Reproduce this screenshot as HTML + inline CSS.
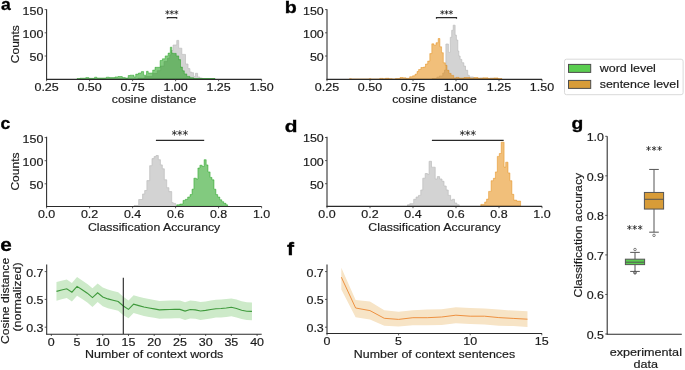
<!DOCTYPE html>
<html><head><meta charset="utf-8"><style>
html,body{margin:0;padding:0;background:#fff;width:685px;height:370px;overflow:hidden}
svg{display:block;will-change:transform}
text{font-family:"Liberation Sans",sans-serif}
</style></head><body>
<svg width="685" height="370" viewBox="0 0 685 370">
<rect width="685" height="370" fill="#fff"/>
<text x="0" y="0" font-size="17.0" font-weight="bold" fill="#000" stroke="#000" stroke-width="0.3" transform="translate(0.890 10.034) scale(1.0355 0.9768)">a</text>
<text x="0" y="0" font-size="17.0" font-weight="bold" fill="#000" stroke="#000" stroke-width="0.3" transform="translate(284.704 13.038) scale(1.1555 0.9524)">b</text>
<text x="0" y="0" font-size="17.0" font-weight="bold" fill="#000" stroke="#000" stroke-width="0.3" transform="translate(0.413 129.428) scale(1.0366 1.0090)">c</text>
<text x="0" y="0" font-size="17.0" font-weight="bold" fill="#000" stroke="#000" stroke-width="0.3" transform="translate(284.646 132.335) scale(1.2255 0.9684)">d</text>
<text x="0" y="0" font-size="17.0" font-weight="bold" fill="#000" stroke="#000" stroke-width="0.3" transform="translate(0.293 251.214) scale(1.2179 1.0949)">e</text>
<text x="0" y="0" font-size="17.0" font-weight="bold" fill="#000" stroke="#000" stroke-width="0.3" transform="translate(286.942 254.500) scale(1.2394 1.0548)">f</text>
<text x="0" y="0" font-size="17.0" font-weight="bold" fill="#000" stroke="#000" stroke-width="0.3" transform="translate(571.409 128.700) scale(1.1344 0.9713)">g</text>
<path d="M138.00,79.20 L138.00,78.30 L144.80,78.30 L144.80,76.40 L152.70,76.40 L152.70,73.50 L157.30,73.50 L157.30,70.70 L160.70,70.70 L160.70,66.10 L164.10,66.10 L164.10,61.60 L167.50,61.60 L167.50,58.20 L169.80,58.20 L169.80,54.80 L171.50,54.80 L171.50,50.50 L173.10,50.50 L173.10,45.00 L176.80,45.00 L176.80,40.40 L178.70,40.40 L178.70,48.20 L181.80,48.20 L181.80,54.40 L185.50,54.40 L185.50,64.00 L188.00,64.00 L188.00,68.60 L189.90,68.60 L189.90,72.10 L191.70,72.10 L191.70,72.70 L193.60,72.70 L193.60,76.40 L195.50,76.40 L195.50,73.30 L197.60,73.30 L197.60,77.00 L199.80,77.00 L199.80,78.00 L202.30,78.00 L202.30,78.70 L215.00,78.70 L215.00,79.20 Z" fill="#d3d3d3" fill-opacity="1.0" stroke="#bdbdbd" stroke-width="0.7" stroke-linejoin="miter"/>
<path d="M77.00,79.20 L77.00,78.60 L80.00,78.60 L80.00,78.20 L85.80,78.20 L85.80,77.60 L88.80,77.60 L88.80,78.30 L94.60,78.30 L94.60,77.20 L96.80,77.20 L96.80,78.00 L106.30,78.00 L106.30,77.20 L109.20,77.20 L109.20,77.60 L115.00,77.60 L115.00,76.90 L118.00,76.90 L118.00,76.50 L122.30,76.50 L122.30,77.60 L125.30,77.60 L125.30,78.00 L128.20,78.00 L128.20,75.50 L130.00,75.50 L130.00,75.20 L134.00,75.20 L134.00,76.90 L135.70,76.90 L135.70,74.10 L138.50,74.10 L138.50,73.00 L141.40,73.00 L141.40,71.60 L143.60,71.60 L143.60,75.20 L146.50,75.20 L146.50,71.30 L148.20,71.30 L148.20,73.00 L152.70,73.00 L152.70,70.10 L155.00,70.10 L155.00,67.30 L160.10,67.30 L160.10,60.50 L162.40,60.50 L162.40,58.80 L165.20,58.80 L165.20,55.90 L168.10,55.90 L168.10,53.10 L170.30,53.10 L170.30,47.20 L171.80,47.20 L171.80,53.20 L173.10,53.20 L173.10,53.40 L176.20,53.40 L176.20,55.90 L178.70,55.90 L178.70,59.60 L180.50,59.60 L180.50,67.10 L182.40,67.10 L182.40,70.80 L184.30,70.80 L184.30,73.90 L186.80,73.90 L186.80,76.40 L189.90,76.40 L189.90,77.70 L193.60,77.70 L193.60,78.50 L215.00,78.50 L215.00,79.20 Z" fill="rgb(5,150,0)" fill-opacity="0.5" stroke="rgba(5,150,0,0.58)" stroke-width="0.7" stroke-linejoin="miter"/>
<path d="M432.00,79.20 L432.00,78.60 L436.90,78.60 L436.90,77.20 L439.40,77.20 L439.40,76.00 L442.80,76.00 L442.80,73.00 L444.50,73.00 L444.50,70.00 L445.90,70.00 L445.90,44.00 L448.40,44.00 L448.40,52.40 L450.30,52.40 L450.30,37.30 L451.70,37.30 L451.70,30.30 L453.20,30.30 L453.20,25.20 L455.10,25.20 L455.10,35.10 L456.40,35.10 L456.40,40.00 L457.80,40.00 L457.80,51.00 L458.80,51.00 L458.80,56.00 L460.10,56.00 L460.10,59.40 L461.80,59.40 L461.80,62.70 L463.80,62.70 L463.80,66.10 L465.50,66.10 L465.50,70.30 L467.70,70.30 L467.70,75.30 L469.30,75.30 L469.30,77.00 L473.50,77.00 L473.50,78.30 L480.00,78.30 L480.00,78.00 L483.00,78.00 L483.00,78.60 L490.00,78.60 L490.00,78.20 L494.00,78.20 L494.00,78.60 L498.00,78.60 L498.00,79.20 Z" fill="#d3d3d3" fill-opacity="1.0" stroke="#bdbdbd" stroke-width="0.7" stroke-linejoin="miter"/>
<path d="M349.50,79.20 L349.50,78.70 L351.30,78.70 L351.30,79.20 L369.20,79.20 L369.20,78.70 L371.00,78.70 L371.00,79.20 L379.70,79.20 L379.70,78.40 L383.00,78.40 L383.00,78.80 L385.50,78.80 L385.50,78.30 L389.00,78.30 L389.00,78.70 L392.20,78.70 L392.20,79.10 L395.50,79.10 L395.50,78.60 L400.00,78.60 L400.00,77.50 L403.00,77.50 L403.00,77.80 L406.00,77.80 L406.00,78.30 L409.70,78.30 L409.70,76.70 L412.60,76.70 L412.60,75.80 L415.00,75.80 L415.00,74.20 L417.00,74.20 L417.00,71.50 L418.60,71.50 L418.60,69.50 L420.90,69.50 L420.90,67.50 L423.50,67.50 L423.50,67.00 L425.50,67.00 L425.50,64.00 L427.70,64.00 L427.70,61.10 L429.80,61.10 L429.80,53.60 L431.80,53.60 L431.80,43.80 L433.90,43.80 L433.90,45.20 L436.00,45.20 L436.00,42.70 L438.20,42.70 L438.20,38.50 L439.90,38.50 L439.90,46.80 L441.60,46.80 L441.60,52.70 L443.30,52.70 L443.30,62.80 L445.30,62.80 L445.30,65.30 L447.00,65.30 L447.00,70.30 L449.00,70.30 L449.00,73.40 L451.10,73.40 L451.10,75.40 L453.70,75.40 L453.70,77.90 L456.00,77.90 L456.00,77.40 L459.00,77.40 L459.00,78.10 L464.00,78.10 L464.00,77.60 L470.00,77.60 L470.00,78.20 L474.00,78.20 L474.00,77.60 L478.00,77.60 L478.00,78.30 L483.00,78.30 L483.00,77.80 L488.00,77.80 L488.00,78.40 L494.00,78.40 L494.00,77.90 L498.00,77.90 L498.00,78.60 L502.00,78.60 L502.00,79.20 Z" fill="rgb(228,133,0)" fill-opacity="0.52" stroke="rgba(228,133,0,0.62)" stroke-width="0.7" stroke-linejoin="miter"/>
<line x1="46.60" y1="9.20" x2="46.60" y2="79.70" stroke="#2a2a2a" stroke-width="1.05" />
<line x1="46.10" y1="79.35" x2="261.60" y2="79.35" stroke="#2a2a2a" stroke-width="1.05" />
<line x1="46.60" y1="79.20" x2="46.60" y2="81.20" stroke="#333333" stroke-width="0.8" />
<text x="46.60" y="91.10" font-size="11.4" text-anchor="middle" fill="#1a1a1a" stroke="#1a1a1a" stroke-width="0.18" textLength="24.27" lengthAdjust="spacingAndGlyphs">0.25</text>
<line x1="89.60" y1="79.20" x2="89.60" y2="81.20" stroke="#333333" stroke-width="0.8" />
<text x="89.60" y="91.10" font-size="11.4" text-anchor="middle" fill="#1a1a1a" stroke="#1a1a1a" stroke-width="0.18" textLength="24.27" lengthAdjust="spacingAndGlyphs">0.50</text>
<line x1="132.60" y1="79.20" x2="132.60" y2="81.20" stroke="#333333" stroke-width="0.8" />
<text x="132.60" y="91.10" font-size="11.4" text-anchor="middle" fill="#1a1a1a" stroke="#1a1a1a" stroke-width="0.18" textLength="24.27" lengthAdjust="spacingAndGlyphs">0.75</text>
<line x1="175.60" y1="79.20" x2="175.60" y2="81.20" stroke="#333333" stroke-width="0.8" />
<text x="175.60" y="91.10" font-size="11.4" text-anchor="middle" fill="#1a1a1a" stroke="#1a1a1a" stroke-width="0.18" textLength="24.27" lengthAdjust="spacingAndGlyphs">1.00</text>
<line x1="218.60" y1="79.20" x2="218.60" y2="81.20" stroke="#333333" stroke-width="0.8" />
<text x="218.60" y="91.10" font-size="11.4" text-anchor="middle" fill="#1a1a1a" stroke="#1a1a1a" stroke-width="0.18" textLength="24.27" lengthAdjust="spacingAndGlyphs">1.25</text>
<line x1="261.60" y1="79.20" x2="261.60" y2="81.20" stroke="#333333" stroke-width="0.8" />
<text x="261.60" y="91.10" font-size="11.4" text-anchor="middle" fill="#1a1a1a" stroke="#1a1a1a" stroke-width="0.18" textLength="24.27" lengthAdjust="spacingAndGlyphs">1.50</text>
<line x1="44.60" y1="56.00" x2="46.60" y2="56.00" stroke="#333333" stroke-width="0.8" />
<text x="43.40" y="60.90" font-size="11.4" text-anchor="end" fill="#1a1a1a" stroke="#1a1a1a" stroke-width="0.18" textLength="13.87" lengthAdjust="spacingAndGlyphs">50</text>
<line x1="44.60" y1="32.80" x2="46.60" y2="32.80" stroke="#333333" stroke-width="0.8" />
<text x="43.40" y="37.70" font-size="11.4" text-anchor="end" fill="#1a1a1a" stroke="#1a1a1a" stroke-width="0.18" textLength="20.80" lengthAdjust="spacingAndGlyphs">100</text>
<line x1="44.60" y1="9.60" x2="46.60" y2="9.60" stroke="#333333" stroke-width="0.8" />
<text x="43.40" y="14.50" font-size="11.4" text-anchor="end" fill="#1a1a1a" stroke="#1a1a1a" stroke-width="0.18" textLength="20.80" lengthAdjust="spacingAndGlyphs">150</text>
<text x="154.10" y="103.00" font-size="11.4" text-anchor="middle" fill="#1a1a1a" stroke="#1a1a1a" stroke-width="0.18" textLength="84.64" lengthAdjust="spacingAndGlyphs">cosine distance</text>
<text x="19.00" y="44.20" font-size="11.4" text-anchor="middle" fill="#1a1a1a" stroke="#1a1a1a" stroke-width="0.18" textLength="38.05" lengthAdjust="spacingAndGlyphs" transform="rotate(-90 19.00 44.20)">Counts</text>
<line x1="327.00" y1="9.20" x2="327.00" y2="79.70" stroke="#2a2a2a" stroke-width="1.05" />
<line x1="326.50" y1="79.35" x2="542.00" y2="79.35" stroke="#2a2a2a" stroke-width="1.05" />
<line x1="327.00" y1="79.20" x2="327.00" y2="81.20" stroke="#333333" stroke-width="0.8" />
<text x="327.00" y="91.10" font-size="11.4" text-anchor="middle" fill="#1a1a1a" stroke="#1a1a1a" stroke-width="0.18" textLength="24.27" lengthAdjust="spacingAndGlyphs">0.25</text>
<line x1="370.00" y1="79.20" x2="370.00" y2="81.20" stroke="#333333" stroke-width="0.8" />
<text x="370.00" y="91.10" font-size="11.4" text-anchor="middle" fill="#1a1a1a" stroke="#1a1a1a" stroke-width="0.18" textLength="24.27" lengthAdjust="spacingAndGlyphs">0.50</text>
<line x1="413.00" y1="79.20" x2="413.00" y2="81.20" stroke="#333333" stroke-width="0.8" />
<text x="413.00" y="91.10" font-size="11.4" text-anchor="middle" fill="#1a1a1a" stroke="#1a1a1a" stroke-width="0.18" textLength="24.27" lengthAdjust="spacingAndGlyphs">0.75</text>
<line x1="456.00" y1="79.20" x2="456.00" y2="81.20" stroke="#333333" stroke-width="0.8" />
<text x="456.00" y="91.10" font-size="11.4" text-anchor="middle" fill="#1a1a1a" stroke="#1a1a1a" stroke-width="0.18" textLength="24.27" lengthAdjust="spacingAndGlyphs">1.00</text>
<line x1="499.00" y1="79.20" x2="499.00" y2="81.20" stroke="#333333" stroke-width="0.8" />
<text x="499.00" y="91.10" font-size="11.4" text-anchor="middle" fill="#1a1a1a" stroke="#1a1a1a" stroke-width="0.18" textLength="24.27" lengthAdjust="spacingAndGlyphs">1.25</text>
<line x1="542.00" y1="79.20" x2="542.00" y2="81.20" stroke="#333333" stroke-width="0.8" />
<text x="542.00" y="91.10" font-size="11.4" text-anchor="middle" fill="#1a1a1a" stroke="#1a1a1a" stroke-width="0.18" textLength="24.27" lengthAdjust="spacingAndGlyphs">1.50</text>
<line x1="325.00" y1="56.00" x2="327.00" y2="56.00" stroke="#333333" stroke-width="0.8" />
<text x="323.80" y="60.90" font-size="11.4" text-anchor="end" fill="#1a1a1a" stroke="#1a1a1a" stroke-width="0.18" textLength="13.87" lengthAdjust="spacingAndGlyphs">50</text>
<line x1="325.00" y1="32.80" x2="327.00" y2="32.80" stroke="#333333" stroke-width="0.8" />
<text x="323.80" y="37.70" font-size="11.4" text-anchor="end" fill="#1a1a1a" stroke="#1a1a1a" stroke-width="0.18" textLength="20.80" lengthAdjust="spacingAndGlyphs">100</text>
<line x1="325.00" y1="9.60" x2="327.00" y2="9.60" stroke="#333333" stroke-width="0.8" />
<text x="323.80" y="14.50" font-size="11.4" text-anchor="end" fill="#1a1a1a" stroke="#1a1a1a" stroke-width="0.18" textLength="20.80" lengthAdjust="spacingAndGlyphs">150</text>
<text x="434.50" y="103.00" font-size="11.4" text-anchor="middle" fill="#1a1a1a" stroke="#1a1a1a" stroke-width="0.18" textLength="84.64" lengthAdjust="spacingAndGlyphs">cosine distance</text>
<path d="M167.30,18.80 L167.30,17.60 L176.70,17.60 L176.70,18.80" fill="none" stroke="#2a2a2a" stroke-width="1.2"/>
<path d="M167.40,10.15 L167.40,14.65 M165.45,11.28 L169.35,13.53 M165.45,13.53 L169.35,11.28 M171.80,10.15 L171.80,14.65 M169.85,11.28 L173.75,13.53 M169.85,13.53 L173.75,11.28 M176.30,10.15 L176.30,14.65 M174.35,11.28 L178.25,13.53 M174.35,13.53 L178.25,11.28 " stroke="#1e1e1e" stroke-width="0.75" fill="none" stroke-linecap="butt"/>
<path d="M436.50,18.80 L436.50,17.60 L456.50,17.60 L456.50,18.80" fill="none" stroke="#2a2a2a" stroke-width="1.2"/>
<path d="M442.30,10.20 L442.30,14.60 M440.39,11.30 L444.21,13.50 M440.39,13.50 L444.21,11.30 M446.50,10.20 L446.50,14.60 M444.59,11.30 L448.41,13.50 M444.59,13.50 L448.41,11.30 M450.90,10.20 L450.90,14.60 M448.99,11.30 L452.81,13.50 M448.99,13.50 L452.81,11.30 " stroke="#1e1e1e" stroke-width="0.75" fill="none" stroke-linecap="butt"/>
<path d="M134.00,206.30 L134.00,205.50 L138.70,205.50 L138.70,199.50 L142.60,199.50 L142.60,194.00 L144.70,194.00 L144.70,190.50 L146.90,190.50 L146.90,180.60 L149.70,180.60 L149.70,165.70 L152.00,165.70 L152.00,158.60 L154.10,158.60 L154.10,156.60 L156.00,156.60 L156.00,155.50 L158.30,155.50 L158.30,159.70 L160.40,159.70 L160.40,164.90 L162.30,164.90 L162.30,168.80 L164.30,168.80 L164.30,179.80 L166.70,179.80 L166.70,187.70 L168.90,187.70 L168.90,191.60 L171.70,191.60 L171.70,202.60 L173.20,202.60 L173.20,203.40 L175.60,203.40 L175.60,206.30 Z" fill="#d3d3d3" fill-opacity="1.0" stroke="#bdbdbd" stroke-width="0.7" stroke-linejoin="miter"/>
<path d="M176.70,206.30 L176.70,204.80 L179.80,204.80 L179.80,204.00 L183.00,204.00 L183.00,200.40 L185.30,200.40 L185.30,199.30 L187.70,199.30 L187.70,197.00 L190.00,197.00 L190.00,194.60 L192.00,194.60 L192.00,189.20 L193.90,189.20 L193.90,178.20 L196.30,178.20 L196.30,179.00 L197.90,179.00 L197.90,168.00 L199.90,168.00 L199.90,165.20 L202.20,165.20 L202.20,166.50 L204.10,166.50 L204.10,159.70 L206.20,159.70 L206.20,164.90 L208.00,164.90 L208.00,171.90 L210.10,171.90 L210.10,177.40 L212.00,177.40 L212.00,179.80 L214.00,179.80 L214.00,189.20 L215.90,189.20 L215.90,194.60 L217.70,194.60 L217.70,197.00 L219.80,197.00 L219.80,199.80 L221.80,199.80 L221.80,201.70 L223.70,201.70 L223.70,203.30 L226.00,203.30 L226.00,204.80 L227.60,204.80 L227.60,206.30 Z" fill="rgb(5,150,0)" fill-opacity="0.5" stroke="rgba(5,150,0,0.58)" stroke-width="0.7" stroke-linejoin="miter"/>
<path d="M407.50,206.20 L407.50,204.80 L409.80,204.80 L409.80,203.70 L413.70,203.70 L413.70,199.30 L416.10,199.30 L416.10,197.00 L418.50,197.00 L418.50,195.40 L420.80,195.40 L420.80,190.00 L422.80,190.00 L422.80,178.20 L425.20,178.20 L425.20,173.50 L427.40,173.50 L427.40,174.30 L429.10,174.30 L429.10,161.30 L431.50,161.30 L431.50,167.20 L433.00,167.20 L433.00,167.20 L435.20,167.20 L435.20,179.00 L437.30,179.00 L437.30,176.60 L439.60,176.60 L439.60,179.00 L442.00,179.00 L442.00,181.30 L444.00,181.30 L444.00,186.00 L446.20,186.00 L446.20,190.00 L448.20,190.00 L448.20,195.40 L450.60,195.40 L450.60,200.10 L452.40,200.10 L452.40,199.30 L454.50,199.30 L454.50,203.00 L456.80,203.00 L456.80,204.80 L459.20,204.80 L459.20,206.20 Z" fill="#d3d3d3" fill-opacity="1.0" stroke="#bdbdbd" stroke-width="0.7" stroke-linejoin="miter"/>
<path d="M480.80,206.20 L480.80,204.40 L484.70,204.40 L484.70,202.00 L486.60,202.00 L486.60,199.10 L488.60,199.10 L488.60,191.40 L491.10,191.40 L491.10,180.70 L493.40,180.70 L493.40,178.30 L495.40,178.30 L495.40,171.90 L497.30,171.90 L497.30,156.40 L499.30,156.40 L499.30,153.50 L501.20,153.50 L501.20,142.20 L504.10,142.20 L504.10,167.10 L505.70,167.10 L505.70,162.20 L508.00,162.20 L508.00,172.90 L509.90,172.90 L509.90,180.70 L511.90,180.70 L511.90,194.30 L513.80,194.30 L513.80,200.10 L516.70,200.10 L516.70,201.10 L520.60,201.10 L520.60,206.20 Z" fill="rgb(228,133,0)" fill-opacity="0.52" stroke="rgba(228,133,0,0.62)" stroke-width="0.7" stroke-linejoin="miter"/>
<line x1="46.60" y1="136.80" x2="46.60" y2="206.80" stroke="#2a2a2a" stroke-width="1.05" />
<line x1="46.10" y1="206.45" x2="261.60" y2="206.45" stroke="#2a2a2a" stroke-width="1.05" />
<line x1="46.60" y1="206.30" x2="46.60" y2="208.30" stroke="#333333" stroke-width="0.8" />
<text x="46.60" y="218.20" font-size="11.4" text-anchor="middle" fill="#1a1a1a" stroke="#1a1a1a" stroke-width="0.18" textLength="17.33" lengthAdjust="spacingAndGlyphs">0.0</text>
<line x1="89.60" y1="206.30" x2="89.60" y2="208.30" stroke="#333333" stroke-width="0.8" />
<text x="89.60" y="218.20" font-size="11.4" text-anchor="middle" fill="#1a1a1a" stroke="#1a1a1a" stroke-width="0.18" textLength="17.33" lengthAdjust="spacingAndGlyphs">0.2</text>
<line x1="132.60" y1="206.30" x2="132.60" y2="208.30" stroke="#333333" stroke-width="0.8" />
<text x="132.60" y="218.20" font-size="11.4" text-anchor="middle" fill="#1a1a1a" stroke="#1a1a1a" stroke-width="0.18" textLength="17.33" lengthAdjust="spacingAndGlyphs">0.4</text>
<line x1="175.60" y1="206.30" x2="175.60" y2="208.30" stroke="#333333" stroke-width="0.8" />
<text x="175.60" y="218.20" font-size="11.4" text-anchor="middle" fill="#1a1a1a" stroke="#1a1a1a" stroke-width="0.18" textLength="17.33" lengthAdjust="spacingAndGlyphs">0.6</text>
<line x1="218.60" y1="206.30" x2="218.60" y2="208.30" stroke="#333333" stroke-width="0.8" />
<text x="218.60" y="218.20" font-size="11.4" text-anchor="middle" fill="#1a1a1a" stroke="#1a1a1a" stroke-width="0.18" textLength="17.33" lengthAdjust="spacingAndGlyphs">0.8</text>
<line x1="261.60" y1="206.30" x2="261.60" y2="208.30" stroke="#333333" stroke-width="0.8" />
<text x="261.60" y="218.20" font-size="11.4" text-anchor="middle" fill="#1a1a1a" stroke="#1a1a1a" stroke-width="0.18" textLength="17.33" lengthAdjust="spacingAndGlyphs">1.0</text>
<line x1="44.60" y1="183.80" x2="46.60" y2="183.80" stroke="#333333" stroke-width="0.8" />
<text x="43.40" y="188.70" font-size="11.4" text-anchor="end" fill="#1a1a1a" stroke="#1a1a1a" stroke-width="0.18" textLength="13.87" lengthAdjust="spacingAndGlyphs">50</text>
<line x1="44.60" y1="160.70" x2="46.60" y2="160.70" stroke="#333333" stroke-width="0.8" />
<text x="43.40" y="165.60" font-size="11.4" text-anchor="end" fill="#1a1a1a" stroke="#1a1a1a" stroke-width="0.18" textLength="20.80" lengthAdjust="spacingAndGlyphs">100</text>
<line x1="44.60" y1="137.60" x2="46.60" y2="137.60" stroke="#333333" stroke-width="0.8" />
<text x="43.40" y="142.50" font-size="11.4" text-anchor="end" fill="#1a1a1a" stroke="#1a1a1a" stroke-width="0.18" textLength="20.80" lengthAdjust="spacingAndGlyphs">150</text>
<text x="154.10" y="230.60" font-size="11.4" text-anchor="middle" fill="#1a1a1a" stroke="#1a1a1a" stroke-width="0.18" textLength="132.26" lengthAdjust="spacingAndGlyphs">Classification Accurancy</text>
<text x="19.00" y="171.55" font-size="11.4" text-anchor="middle" fill="#1a1a1a" stroke="#1a1a1a" stroke-width="0.18" textLength="38.05" lengthAdjust="spacingAndGlyphs" transform="rotate(-90 19.00 171.55)">Counts</text>
<line x1="327.00" y1="136.70" x2="327.00" y2="206.70" stroke="#2a2a2a" stroke-width="1.05" />
<line x1="326.50" y1="206.35" x2="542.00" y2="206.35" stroke="#2a2a2a" stroke-width="1.05" />
<line x1="327.00" y1="206.20" x2="327.00" y2="208.20" stroke="#333333" stroke-width="0.8" />
<text x="327.00" y="218.10" font-size="11.4" text-anchor="middle" fill="#1a1a1a" stroke="#1a1a1a" stroke-width="0.18" textLength="17.33" lengthAdjust="spacingAndGlyphs">0.0</text>
<line x1="370.00" y1="206.20" x2="370.00" y2="208.20" stroke="#333333" stroke-width="0.8" />
<text x="370.00" y="218.10" font-size="11.4" text-anchor="middle" fill="#1a1a1a" stroke="#1a1a1a" stroke-width="0.18" textLength="17.33" lengthAdjust="spacingAndGlyphs">0.2</text>
<line x1="413.00" y1="206.20" x2="413.00" y2="208.20" stroke="#333333" stroke-width="0.8" />
<text x="413.00" y="218.10" font-size="11.4" text-anchor="middle" fill="#1a1a1a" stroke="#1a1a1a" stroke-width="0.18" textLength="17.33" lengthAdjust="spacingAndGlyphs">0.4</text>
<line x1="456.00" y1="206.20" x2="456.00" y2="208.20" stroke="#333333" stroke-width="0.8" />
<text x="456.00" y="218.10" font-size="11.4" text-anchor="middle" fill="#1a1a1a" stroke="#1a1a1a" stroke-width="0.18" textLength="17.33" lengthAdjust="spacingAndGlyphs">0.6</text>
<line x1="499.00" y1="206.20" x2="499.00" y2="208.20" stroke="#333333" stroke-width="0.8" />
<text x="499.00" y="218.10" font-size="11.4" text-anchor="middle" fill="#1a1a1a" stroke="#1a1a1a" stroke-width="0.18" textLength="17.33" lengthAdjust="spacingAndGlyphs">0.8</text>
<line x1="542.00" y1="206.20" x2="542.00" y2="208.20" stroke="#333333" stroke-width="0.8" />
<text x="542.00" y="218.10" font-size="11.4" text-anchor="middle" fill="#1a1a1a" stroke="#1a1a1a" stroke-width="0.18" textLength="17.33" lengthAdjust="spacingAndGlyphs">1.0</text>
<line x1="325.00" y1="183.70" x2="327.00" y2="183.70" stroke="#333333" stroke-width="0.8" />
<text x="323.80" y="188.60" font-size="11.4" text-anchor="end" fill="#1a1a1a" stroke="#1a1a1a" stroke-width="0.18" textLength="13.87" lengthAdjust="spacingAndGlyphs">50</text>
<line x1="325.00" y1="160.60" x2="327.00" y2="160.60" stroke="#333333" stroke-width="0.8" />
<text x="323.80" y="165.50" font-size="11.4" text-anchor="end" fill="#1a1a1a" stroke="#1a1a1a" stroke-width="0.18" textLength="20.80" lengthAdjust="spacingAndGlyphs">100</text>
<line x1="325.00" y1="137.50" x2="327.00" y2="137.50" stroke="#333333" stroke-width="0.8" />
<text x="323.80" y="142.40" font-size="11.4" text-anchor="end" fill="#1a1a1a" stroke="#1a1a1a" stroke-width="0.18" textLength="20.80" lengthAdjust="spacingAndGlyphs">150</text>
<text x="434.50" y="230.60" font-size="11.4" text-anchor="middle" fill="#1a1a1a" stroke="#1a1a1a" stroke-width="0.18" textLength="132.26" lengthAdjust="spacingAndGlyphs">Classification Accurancy</text>
<path d="M156.50,140.90 L156.50,140.30 L203.60,140.30 L203.60,140.90" fill="none" stroke="#2a2a2a" stroke-width="1.2"/>
<path d="M174.40,130.10 L174.40,135.70 M171.98,131.50 L176.82,134.30 M171.98,134.30 L176.82,131.50 M179.80,130.10 L179.80,135.70 M177.38,131.50 L182.22,134.30 M177.38,134.30 L182.22,131.50 M185.40,130.10 L185.40,135.70 M182.98,131.50 L187.82,134.30 M182.98,134.30 L187.82,131.50 " stroke="#1e1e1e" stroke-width="0.75" fill="none" stroke-linecap="butt"/>
<path d="M432.50,141.00 L432.50,140.40 L503.10,140.40 L503.10,141.00" fill="none" stroke="#2a2a2a" stroke-width="1.2"/>
<path d="M462.40,130.20 L462.40,135.80 M459.98,131.60 L464.82,134.40 M459.98,134.40 L464.82,131.60 M467.70,130.20 L467.70,135.80 M465.28,131.60 L470.12,134.40 M465.28,134.40 L470.12,131.60 M473.30,130.20 L473.30,135.80 M470.88,131.60 L475.72,134.40 M470.88,134.40 L475.72,131.60 " stroke="#1e1e1e" stroke-width="0.75" fill="none" stroke-linecap="butt"/>
<rect x="564.5" y="59.2" width="118.6" height="35.5" rx="2" ry="2" fill="#fff" stroke="#d9d9d9" stroke-width="1"/>
<rect x="568.5" y="64.4" width="22.2" height="8.0" fill="#5acd50" stroke="#4d4d4d" stroke-width="1"/>
<rect x="568.5" y="80.4" width="22.2" height="8.0" fill="#d89c38" stroke="#4d4d4d" stroke-width="1"/>
<text x="599.70" y="72.00" font-size="11.4" text-anchor="start" fill="#1a1a1a" stroke="#1a1a1a" stroke-width="0.18" textLength="56.18" lengthAdjust="spacingAndGlyphs">word level</text>
<text x="599.70" y="88.00" font-size="11.4" text-anchor="start" fill="#1a1a1a" stroke="#1a1a1a" stroke-width="0.18" textLength="79.26" lengthAdjust="spacingAndGlyphs">sentence level</text>
<polygon points="56.47,282.10 61.62,280.70 66.76,279.50 71.91,282.90 77.05,277.10 82.19,280.50 87.34,283.90 92.48,288.30 97.63,283.50 102.77,287.60 107.91,289.60 113.06,290.90 118.20,292.20 123.35,296.70 128.49,300.50 133.63,295.30 138.78,296.70 143.92,298.10 149.07,299.10 154.21,300.00 159.35,301.00 164.50,300.70 169.64,300.60 174.79,300.50 179.93,300.50 185.07,302.20 190.22,300.60 195.36,301.00 200.51,302.10 205.65,301.50 210.79,300.60 215.94,299.80 221.08,299.60 226.23,299.10 231.37,298.40 236.51,299.60 241.66,301.30 246.80,302.30 251.95,302.50 251.95,320.30 246.80,320.10 241.66,319.10 236.51,317.40 231.37,316.20 226.23,316.90 221.08,317.40 215.94,317.60 210.79,318.40 205.65,319.30 200.51,319.90 195.36,318.80 190.22,318.40 185.07,320.00 179.93,318.30 174.79,318.30 169.64,318.40 164.50,318.50 159.35,318.80 154.21,317.80 149.07,316.90 143.92,315.90 138.78,314.50 133.63,313.10 128.49,318.30 123.35,315.30 118.20,310.80 113.06,309.50 107.91,308.20 102.77,306.20 97.63,302.10 92.48,306.90 87.34,302.50 82.19,299.10 77.05,295.70 71.91,301.50 66.76,298.10 61.62,299.30 56.47,300.70" fill="#cdeac9"/>
<polyline points="56.47,291.40 61.62,290.00 66.76,288.80 71.91,292.20 77.05,286.40 82.19,289.80 87.34,293.20 92.48,297.60 97.63,292.80 102.77,296.90 107.91,298.90 113.06,300.20 118.20,301.50 123.35,306.00 128.49,309.40 133.63,304.20 138.78,305.60 143.92,307.00 149.07,308.00 154.21,308.90 159.35,309.90 164.50,309.60 169.64,309.50 174.79,309.40 179.93,309.40 185.07,311.10 190.22,309.50 195.36,309.90 200.51,311.00 205.65,310.40 210.79,309.50 215.94,308.70 221.08,308.50 226.23,308.00 231.37,307.30 236.51,308.50 241.66,310.20 246.80,311.20 251.95,311.40" fill="none" stroke="#3f9a3c" stroke-width="1.1"/>
<line x1="123.30" y1="277.80" x2="123.30" y2="334.00" stroke="#222" stroke-width="1.1" />
<polygon points="341.32,267.70 355.64,299.90 369.96,301.50 384.28,310.20 398.60,311.70 412.92,310.20 427.24,309.60 441.56,309.30 455.88,307.20 470.20,308.00 484.52,308.50 498.84,309.60 513.16,310.60 527.48,311.20 527.48,326.90 513.16,326.10 498.84,325.70 484.52,324.50 470.20,324.00 455.88,323.20 441.56,325.00 427.24,325.20 412.92,325.20 398.60,326.50 384.28,325.80 369.96,319.40 355.64,317.30 341.32,289.40" fill="#f7e4c6"/>
<polyline points="341.32,277.20 355.64,308.00 369.96,310.60 384.28,318.30 398.60,319.40 412.92,317.70 427.24,317.70 441.56,317.00 455.88,315.20 470.20,316.20 484.52,316.20 498.84,317.60 513.16,318.40 527.48,319.20" fill="none" stroke="#ee9140" stroke-width="1.0"/>
<line x1="46.70" y1="264.40" x2="46.70" y2="334.50" stroke="#2a2a2a" stroke-width="1.05" />
<line x1="46.20" y1="334.15" x2="261.70" y2="334.15" stroke="#2a2a2a" stroke-width="1.05" />
<line x1="51.33" y1="334.00" x2="51.33" y2="336.00" stroke="#333333" stroke-width="0.8" />
<text x="51.33" y="345.90" font-size="11.4" text-anchor="middle" fill="#1a1a1a" stroke="#1a1a1a" stroke-width="0.18" textLength="6.93" lengthAdjust="spacingAndGlyphs">0</text>
<line x1="77.05" y1="334.00" x2="77.05" y2="336.00" stroke="#333333" stroke-width="0.8" />
<text x="77.05" y="345.90" font-size="11.4" text-anchor="middle" fill="#1a1a1a" stroke="#1a1a1a" stroke-width="0.18" textLength="6.93" lengthAdjust="spacingAndGlyphs">5</text>
<line x1="102.77" y1="334.00" x2="102.77" y2="336.00" stroke="#333333" stroke-width="0.8" />
<text x="102.77" y="345.90" font-size="11.4" text-anchor="middle" fill="#1a1a1a" stroke="#1a1a1a" stroke-width="0.18" textLength="13.87" lengthAdjust="spacingAndGlyphs">10</text>
<line x1="128.49" y1="334.00" x2="128.49" y2="336.00" stroke="#333333" stroke-width="0.8" />
<text x="128.49" y="345.90" font-size="11.4" text-anchor="middle" fill="#1a1a1a" stroke="#1a1a1a" stroke-width="0.18" textLength="13.87" lengthAdjust="spacingAndGlyphs">15</text>
<line x1="154.21" y1="334.00" x2="154.21" y2="336.00" stroke="#333333" stroke-width="0.8" />
<text x="154.21" y="345.90" font-size="11.4" text-anchor="middle" fill="#1a1a1a" stroke="#1a1a1a" stroke-width="0.18" textLength="13.87" lengthAdjust="spacingAndGlyphs">20</text>
<line x1="179.93" y1="334.00" x2="179.93" y2="336.00" stroke="#333333" stroke-width="0.8" />
<text x="179.93" y="345.90" font-size="11.4" text-anchor="middle" fill="#1a1a1a" stroke="#1a1a1a" stroke-width="0.18" textLength="13.87" lengthAdjust="spacingAndGlyphs">25</text>
<line x1="205.65" y1="334.00" x2="205.65" y2="336.00" stroke="#333333" stroke-width="0.8" />
<text x="205.65" y="345.90" font-size="11.4" text-anchor="middle" fill="#1a1a1a" stroke="#1a1a1a" stroke-width="0.18" textLength="13.87" lengthAdjust="spacingAndGlyphs">30</text>
<line x1="231.37" y1="334.00" x2="231.37" y2="336.00" stroke="#333333" stroke-width="0.8" />
<text x="231.37" y="345.90" font-size="11.4" text-anchor="middle" fill="#1a1a1a" stroke="#1a1a1a" stroke-width="0.18" textLength="13.87" lengthAdjust="spacingAndGlyphs">35</text>
<line x1="257.09" y1="334.00" x2="257.09" y2="336.00" stroke="#333333" stroke-width="0.8" />
<text x="257.09" y="345.90" font-size="11.4" text-anchor="middle" fill="#1a1a1a" stroke="#1a1a1a" stroke-width="0.18" textLength="13.87" lengthAdjust="spacingAndGlyphs">40</text>
<line x1="44.70" y1="271.60" x2="46.70" y2="271.60" stroke="#333333" stroke-width="0.8" />
<text x="43.50" y="276.50" font-size="11.4" text-anchor="end" fill="#1a1a1a" stroke="#1a1a1a" stroke-width="0.18" textLength="17.33" lengthAdjust="spacingAndGlyphs">0.7</text>
<line x1="44.70" y1="299.40" x2="46.70" y2="299.40" stroke="#333333" stroke-width="0.8" />
<text x="43.50" y="304.30" font-size="11.4" text-anchor="end" fill="#1a1a1a" stroke="#1a1a1a" stroke-width="0.18" textLength="17.33" lengthAdjust="spacingAndGlyphs">0.5</text>
<line x1="44.70" y1="327.20" x2="46.70" y2="327.20" stroke="#333333" stroke-width="0.8" />
<text x="43.50" y="332.10" font-size="11.4" text-anchor="end" fill="#1a1a1a" stroke="#1a1a1a" stroke-width="0.18" textLength="17.33" lengthAdjust="spacingAndGlyphs">0.3</text>
<text x="154.20" y="357.50" font-size="11.4" text-anchor="middle" fill="#1a1a1a" stroke="#1a1a1a" stroke-width="0.18" textLength="138.24" lengthAdjust="spacingAndGlyphs">Number of context words</text>
<line x1="327.00" y1="264.40" x2="327.00" y2="333.80" stroke="#2a2a2a" stroke-width="1.05" />
<line x1="326.50" y1="333.45" x2="542.00" y2="333.45" stroke="#2a2a2a" stroke-width="1.05" />
<line x1="327.00" y1="333.30" x2="327.00" y2="335.30" stroke="#333333" stroke-width="0.8" />
<text x="327.00" y="345.20" font-size="11.4" text-anchor="middle" fill="#1a1a1a" stroke="#1a1a1a" stroke-width="0.18" textLength="6.93" lengthAdjust="spacingAndGlyphs">0</text>
<line x1="398.60" y1="333.30" x2="398.60" y2="335.30" stroke="#333333" stroke-width="0.8" />
<text x="398.60" y="345.20" font-size="11.4" text-anchor="middle" fill="#1a1a1a" stroke="#1a1a1a" stroke-width="0.18" textLength="6.93" lengthAdjust="spacingAndGlyphs">5</text>
<line x1="470.20" y1="333.30" x2="470.20" y2="335.30" stroke="#333333" stroke-width="0.8" />
<text x="470.20" y="345.20" font-size="11.4" text-anchor="middle" fill="#1a1a1a" stroke="#1a1a1a" stroke-width="0.18" textLength="13.87" lengthAdjust="spacingAndGlyphs">10</text>
<line x1="541.80" y1="333.30" x2="541.80" y2="335.30" stroke="#333333" stroke-width="0.8" />
<text x="541.80" y="345.20" font-size="11.4" text-anchor="middle" fill="#1a1a1a" stroke="#1a1a1a" stroke-width="0.18" textLength="13.87" lengthAdjust="spacingAndGlyphs">15</text>
<line x1="325.00" y1="271.60" x2="327.00" y2="271.60" stroke="#333333" stroke-width="0.8" />
<text x="323.80" y="276.50" font-size="11.4" text-anchor="end" fill="#1a1a1a" stroke="#1a1a1a" stroke-width="0.18" textLength="17.33" lengthAdjust="spacingAndGlyphs">0.7</text>
<line x1="325.00" y1="299.40" x2="327.00" y2="299.40" stroke="#333333" stroke-width="0.8" />
<text x="323.80" y="304.30" font-size="11.4" text-anchor="end" fill="#1a1a1a" stroke="#1a1a1a" stroke-width="0.18" textLength="17.33" lengthAdjust="spacingAndGlyphs">0.5</text>
<line x1="325.00" y1="327.20" x2="327.00" y2="327.20" stroke="#333333" stroke-width="0.8" />
<text x="323.80" y="332.10" font-size="11.4" text-anchor="end" fill="#1a1a1a" stroke="#1a1a1a" stroke-width="0.18" textLength="17.33" lengthAdjust="spacingAndGlyphs">0.3</text>
<text x="434.50" y="357.50" font-size="11.4" text-anchor="middle" fill="#1a1a1a" stroke="#1a1a1a" stroke-width="0.18" textLength="161.33" lengthAdjust="spacingAndGlyphs">Number of context sentences</text>
<text x="9.30" y="301.00" font-size="11.4" text-anchor="middle" fill="#1a1a1a" stroke="#1a1a1a" stroke-width="0.18" textLength="86.25" lengthAdjust="spacingAndGlyphs" transform="rotate(-90 9.30 301.00)">Cosine distance</text>
<text x="20.60" y="297.00" font-size="11.4" text-anchor="middle" fill="#1a1a1a" stroke="#1a1a1a" stroke-width="0.18" textLength="69.07" lengthAdjust="spacingAndGlyphs" transform="rotate(-90 20.60 297.00)">(normalized)</text>
<line x1="635.00" y1="259.19" x2="635.00" y2="252.39" stroke="#555" stroke-width="1" />
<line x1="635.00" y1="264.61" x2="635.00" y2="271.41" stroke="#555" stroke-width="1" />
<line x1="630.20" y1="252.39" x2="639.80" y2="252.39" stroke="#555" stroke-width="1" />
<line x1="630.20" y1="271.41" x2="639.80" y2="271.41" stroke="#555" stroke-width="1" />
<rect x="625.40" y="259.19" width="19.20" height="5.42" fill="#5acd50" stroke="#555" stroke-width="1"/>
<line x1="625.40" y1="262.20" x2="644.60" y2="262.20" stroke="#555" stroke-width="1" />
<circle cx="635.00" cy="249.50" r="1.25" fill="none" stroke="#555" stroke-width="0.75"/>
<circle cx="635.00" cy="272.40" r="1.25" fill="none" stroke="#555" stroke-width="0.75"/>
<circle cx="635.00" cy="272.99" r="1.25" fill="none" stroke="#555" stroke-width="0.75"/>
<line x1="654.00" y1="192.45" x2="654.00" y2="169.43" stroke="#555" stroke-width="1" />
<line x1="654.00" y1="209.05" x2="654.00" y2="232.18" stroke="#555" stroke-width="1" />
<line x1="649.20" y1="169.43" x2="658.80" y2="169.43" stroke="#555" stroke-width="1" />
<line x1="649.20" y1="232.18" x2="658.80" y2="232.18" stroke="#555" stroke-width="1" />
<rect x="644.40" y="192.45" width="19.20" height="16.61" fill="#d89c38" stroke="#555" stroke-width="1"/>
<line x1="644.40" y1="199.29" x2="663.60" y2="199.29" stroke="#555" stroke-width="1" />
<circle cx="654.00" cy="235.35" r="1.25" fill="none" stroke="#555" stroke-width="0.75"/>
<line x1="607.20" y1="136.30" x2="607.20" y2="334.50" stroke="#2a2a2a" stroke-width="1.05" />
<line x1="606.70" y1="334.15" x2="681.80" y2="334.15" stroke="#2a2a2a" stroke-width="1.05" />
<line x1="605.20" y1="334.00" x2="607.20" y2="334.00" stroke="#333333" stroke-width="0.8" />
<text x="604.00" y="338.90" font-size="11.4" text-anchor="end" fill="#1a1a1a" stroke="#1a1a1a" stroke-width="0.18" textLength="17.33" lengthAdjust="spacingAndGlyphs">0.5</text>
<line x1="605.20" y1="294.46" x2="607.20" y2="294.46" stroke="#333333" stroke-width="0.8" />
<text x="604.00" y="299.36" font-size="11.4" text-anchor="end" fill="#1a1a1a" stroke="#1a1a1a" stroke-width="0.18" textLength="17.33" lengthAdjust="spacingAndGlyphs">0.6</text>
<line x1="605.20" y1="254.92" x2="607.20" y2="254.92" stroke="#333333" stroke-width="0.8" />
<text x="604.00" y="259.82" font-size="11.4" text-anchor="end" fill="#1a1a1a" stroke="#1a1a1a" stroke-width="0.18" textLength="17.33" lengthAdjust="spacingAndGlyphs">0.7</text>
<line x1="605.20" y1="215.38" x2="607.20" y2="215.38" stroke="#333333" stroke-width="0.8" />
<text x="604.00" y="220.28" font-size="11.4" text-anchor="end" fill="#1a1a1a" stroke="#1a1a1a" stroke-width="0.18" textLength="17.33" lengthAdjust="spacingAndGlyphs">0.8</text>
<line x1="605.20" y1="175.84" x2="607.20" y2="175.84" stroke="#333333" stroke-width="0.8" />
<text x="604.00" y="180.74" font-size="11.4" text-anchor="end" fill="#1a1a1a" stroke="#1a1a1a" stroke-width="0.18" textLength="17.33" lengthAdjust="spacingAndGlyphs">0.9</text>
<line x1="605.20" y1="136.30" x2="607.20" y2="136.30" stroke="#333333" stroke-width="0.8" />
<text x="604.00" y="141.20" font-size="11.4" text-anchor="end" fill="#1a1a1a" stroke="#1a1a1a" stroke-width="0.18" textLength="17.33" lengthAdjust="spacingAndGlyphs">1.0</text>
<path d="M648.50,146.05 L648.50,150.95 M646.38,147.28 L650.62,149.72 M646.38,149.72 L650.62,147.28 M654.10,146.05 L654.10,150.95 M651.98,147.28 L656.22,149.72 M651.98,149.72 L656.22,147.28 M659.60,146.05 L659.60,150.95 M657.48,147.28 L661.72,149.72 M657.48,149.72 L661.72,147.28 " stroke="#1e1e1e" stroke-width="0.75" fill="none" stroke-linecap="butt"/>
<path d="M629.40,225.05 L629.40,229.95 M627.28,226.28 L631.52,228.72 M627.28,228.72 L631.52,226.28 M634.70,225.05 L634.70,229.95 M632.58,226.28 L636.82,228.72 M632.58,228.72 L636.82,226.28 M640.20,225.05 L640.20,229.95 M638.08,226.28 L642.32,228.72 M638.08,228.72 L642.32,226.28 " stroke="#1e1e1e" stroke-width="0.75" fill="none" stroke-linecap="butt"/>
<text x="645.80" y="356.30" font-size="11.4" text-anchor="middle" fill="#1a1a1a" stroke="#1a1a1a" stroke-width="0.18" textLength="72.31" lengthAdjust="spacingAndGlyphs">experimental</text>
<text x="645.80" y="368.20" font-size="11.4" text-anchor="middle" fill="#1a1a1a" stroke="#1a1a1a" stroke-width="0.18" textLength="24.55" lengthAdjust="spacingAndGlyphs">data</text>
<text x="582.30" y="235.20" font-size="11.4" text-anchor="middle" fill="#1a1a1a" stroke="#1a1a1a" stroke-width="0.18" textLength="124.77" lengthAdjust="spacingAndGlyphs" transform="rotate(-90 582.30 235.20)">Classification accuracy</text>
</svg>
</body></html>
